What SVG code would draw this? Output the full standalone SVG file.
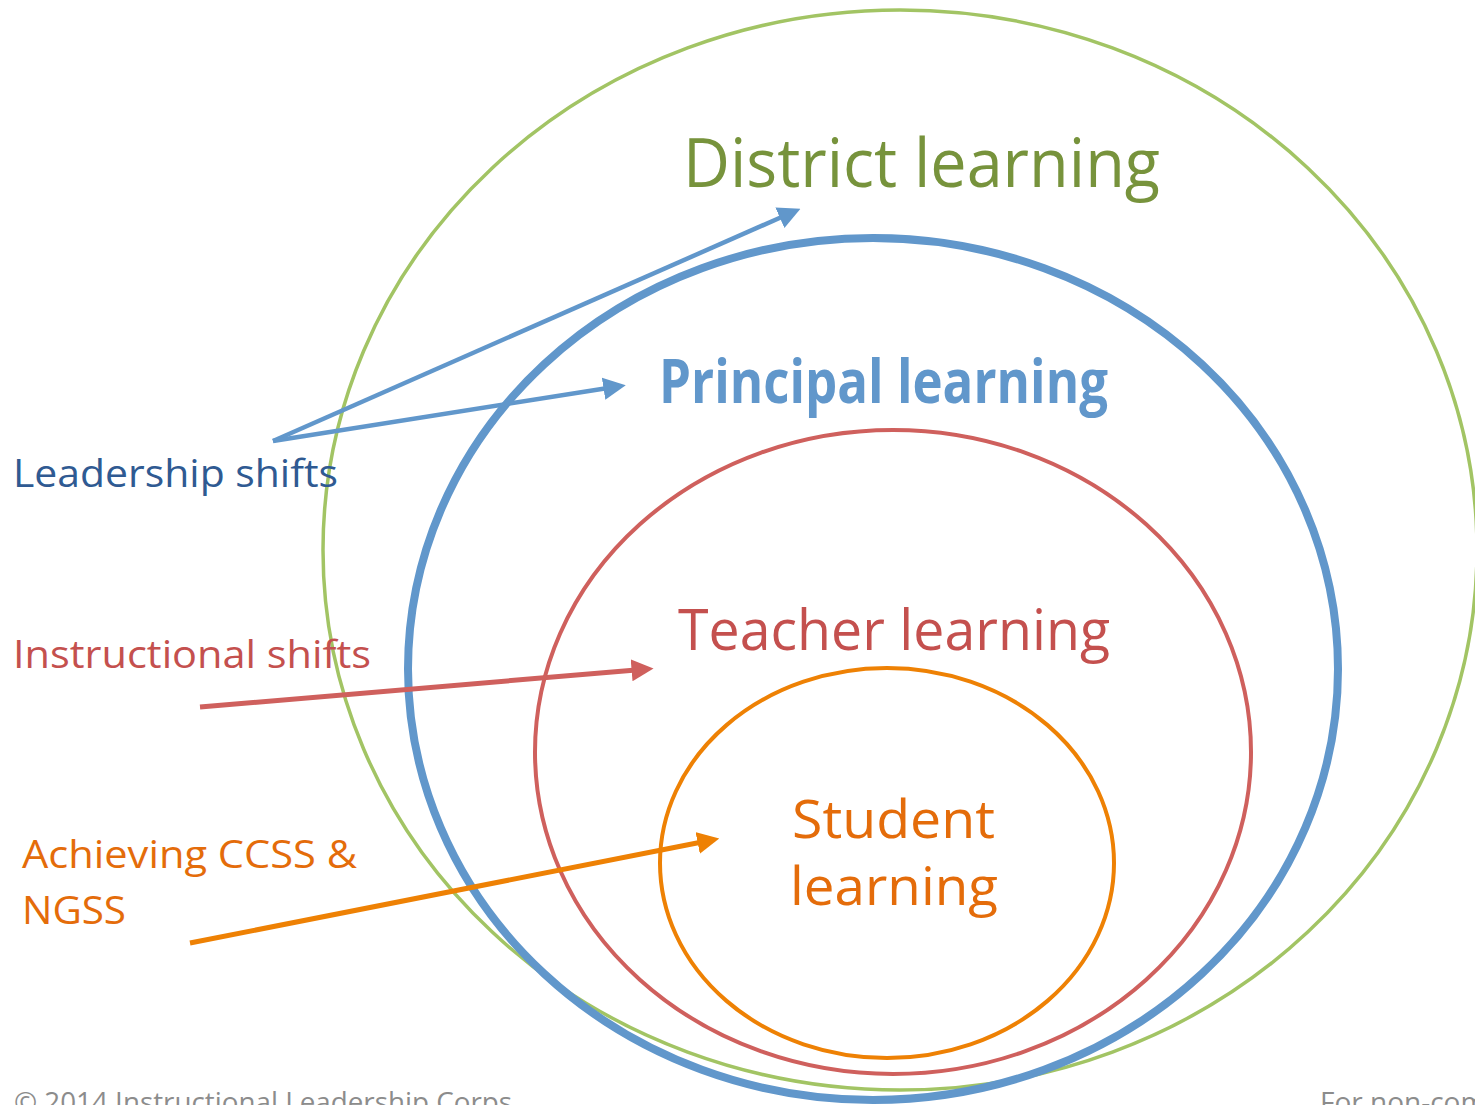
<svg xmlns="http://www.w3.org/2000/svg" width="1475" height="1105" viewBox="0 0 1475 1105">
<defs>
<style>
text{font-family:"Open Sans","Noto Sans","Liberation Sans",sans-serif}
.ring{fill:none}
.foot{font-size:28px;fill:#8c8c8c}
</style>
<marker id="ahB" viewBox="0 0 10 10" refX="2" refY="5" markerWidth="5" markerHeight="5.5" orient="auto" markerUnits="strokeWidth"><path d="M0,0L10,5L0,10z" fill="#6197CB"/></marker>
<marker id="ahR" viewBox="0 0 10 10" refX="2" refY="5" markerWidth="4.4" markerHeight="4.6" orient="auto" markerUnits="strokeWidth"><path d="M0,0L10,5L0,10z" fill="#CF605D"/></marker>
<marker id="ahO" viewBox="0 0 10 10" refX="2" refY="5" markerWidth="4.4" markerHeight="4.6" orient="auto" markerUnits="strokeWidth"><path d="M0,0L10,5L0,10z" fill="#EE8104"/></marker>
</defs>
<rect width="1475" height="1105" fill="#fff"/>
<g id="district">
<ellipse class="ring" cx="900" cy="550" rx="577" ry="540" stroke="#A2C464" stroke-width="3.5"/>
<text x="683" y="187" font-size="68" fill="#77933C" textLength="477" lengthAdjust="spacingAndGlyphs">District learning</text>
</g>
<g id="principal">
<ellipse class="ring" cx="873" cy="669" rx="465" ry="431" stroke="#6197CB" stroke-width="8"/>
<text x="659" y="403" font-size="60" font-weight="bold" fill="#6197CB" textLength="449" lengthAdjust="spacingAndGlyphs">Principal learning</text>
</g>
<g id="teacher">
<ellipse class="ring" cx="893" cy="752" rx="358" ry="322" stroke="#CF605D" stroke-width="4"/>
<text x="678" y="650" font-size="57" fill="#C4504E" textLength="432" lengthAdjust="spacingAndGlyphs">Teacher learning</text>
</g>
<g id="student">
<ellipse class="ring" cx="887" cy="863" rx="227" ry="195" stroke="#EE8104" stroke-width="4"/>
<text x="792" y="838" font-size="53" fill="#E46C0A" textLength="203" lengthAdjust="spacingAndGlyphs">Student</text>
<text x="790" y="905" font-size="53" fill="#E46C0A" textLength="208" lengthAdjust="spacingAndGlyphs">learning</text>
</g>
<g id="leadership">
<text x="13" y="487" font-size="38" fill="#2F5A92" textLength="325" lengthAdjust="spacingAndGlyphs">Leadership shifts</text>
</g>
<g id="instructional">
<text x="13" y="668" font-size="38" fill="#C4504E" textLength="358" lengthAdjust="spacingAndGlyphs">Instructional shifts</text>
</g>
<g id="achieving">
<text x="22" y="868" font-size="38" fill="#E46C0A" textLength="335" lengthAdjust="spacingAndGlyphs">Achieving CCSS &amp;</text>
<text x="22" y="924" font-size="38" fill="#E46C0A" textLength="104" lengthAdjust="spacingAndGlyphs">NGSS</text>
</g>
<g id="connectors" fill="none" stroke-linecap="butt">
<line x1="273" y1="441" x2="784" y2="216" stroke="#6197CB" stroke-width="4.5" marker-end="url(#ahB)"/>
<line x1="273" y1="441" x2="608" y2="388" stroke="#6197CB" stroke-width="4.5" marker-end="url(#ahB)"/>
<line x1="200" y1="707" x2="636" y2="670" stroke="#CF605D" stroke-width="5" marker-end="url(#ahR)"/>
<line x1="190" y1="943" x2="702" y2="842" stroke="#EE8104" stroke-width="5" marker-end="url(#ahO)"/>
</g>
<g id="footer">
<text class="foot" x="14" y="1112" textLength="498" lengthAdjust="spacingAndGlyphs">© 2014 Instructional Leadership Corps</text>
<text class="foot" x="1320" y="1112">For non-commercial use</text>
</g>
</svg>
